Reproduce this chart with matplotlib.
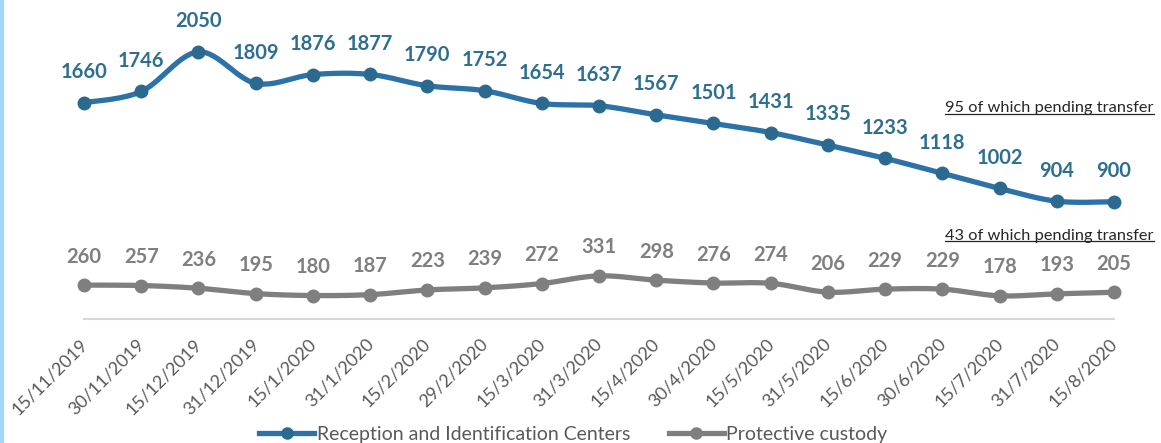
import numpy as np
import matplotlib
matplotlib.use("Agg")
import matplotlib.pyplot as plt
from matplotlib.lines import Line2D
from matplotlib.patches import Rectangle
from matplotlib.transforms import IdentityTransform, ScaledTranslation

dates = ["15/11/2019", "30/11/2019", "15/12/2019", "31/12/2019", "15/1/2020",
         "31/1/2020", "15/2/2020", "29/2/2020", "15/3/2020", "31/3/2020",
         "15/4/2020", "30/4/2020", "15/5/2020", "31/5/2020", "15/6/2020",
         "30/6/2020", "15/7/2020", "31/7/2020", "15/8/2020"]
ric = [1660, 1746, 2050, 1809, 1876, 1877, 1790, 1752, 1654, 1637,
       1567, 1501, 1431, 1335, 1233, 1118, 1002, 904, 900]
custody = [260, 257, 236, 195, 180, 187, 223, 239, 272, 331,
           298, 276, 274, 206, 229, 229, 178, 193, 205]
series_names = ["Reception and Identification Centers", "Protective custody"]
notes = ["95 of which pending transfer", "43 of which pending transfer"]

FONT = ["Lato", "DejaVu Sans"]
plt.rcParams['font.family'] = FONT

W, H = 1161, 443
fig = plt.figure(figsize=(W / 100, H / 100), dpi=100)
ax = fig.add_axes([84 / W, (H - 319) / H, 1030 / W, 319 / H])
ax.set_xlim(0, len(dates) - 1)
ax.set_ylim(0, 319 / 0.1303)


def smooth(xs, ys, n=30):
    xs = np.asarray(xs, float)
    ys = np.asarray(ys, float)
    P = np.column_stack([xs, ys])
    out = []
    for i in range(len(P) - 1):
        p0 = P[i - 1] if i > 0 else P[i]
        p1 = P[i]
        p2 = P[i + 1]
        p3 = P[i + 2] if i + 2 < len(P) else P[i + 1]
        c1 = p1 + (p2 - p0) / 6
        c2 = p2 - (p3 - p1) / 6
        t = np.linspace(0, 1, n)[:, None]
        seg = ((1 - t) ** 3) * p1 + 3 * ((1 - t) ** 2) * t * c1 + 3 * (1 - t) * t ** 2 * c2 + t ** 3 * p2
        out.append(seg if i == 0 else seg[1:])
    S = np.vstack(out)
    return S[:, 0], S[:, 1]


x = np.arange(len(dates))
blue_line = "#2C71A8"
blue_mark = "#2B6A8E"
blue_text = "#2E6E8E"
gray = "#7F7F7F"

for vals, lc, mc, tc, off in [(ric, blue_line, blue_mark, blue_text, 22),
                              (custody, gray, gray, gray, 20.5)]:
    sx, sy = smooth(x, vals)
    ax.plot(sx, sy, color=lc, lw=3.8, solid_capstyle='round', clip_on=False, zorder=2)
    ax.plot(x, vals, 'o', color=mc, ms=9, clip_on=False, zorder=3)
    for xi, v in zip(x, vals):
        ax.annotate(f"{v}", (xi, v), xytext=(0, off), textcoords='offset points',
                    ha='center', va='center', fontsize=14.5, fontweight='bold', color=tc)

for s in ['top', 'right', 'left']:
    ax.spines[s].set_visible(False)
ax.spines['bottom'].set_color('#D9D9D9')
ax.spines['bottom'].set_linewidth(1.5)
ax.set_yticks([])
ax.set_xticks(x)
ax.set_xticklabels(dates, rotation=45, ha='right', rotation_mode='anchor',
                   fontsize=13, color='#595959')
ax.tick_params(axis='x', length=0, pad=12)
shift = ScaledTranslation(-5 / 100, 0, fig.dpi_scale_trans)
for lab in ax.get_xticklabels():
    lab.set_transform(lab.get_transform() + shift)

handles = [Line2D([], [], color=blue_line, lw=3.8, marker='o', ms=8, mfc=blue_mark, mec=blue_mark),
           Line2D([], [], color=gray, lw=3.8, marker='o', ms=8)]
fig.legend(handles, series_names, loc='lower center', bbox_to_anchor=(0.494, -0.04),
           ncol=2, frameon=False, fontsize=14, labelcolor='#595959',
           handlelength=2.8, handletextpad=0.15, columnspacing=2.0)

# left accent bar
fig.add_artist(Rectangle((0, 0), 4 / W, 1, transform=fig.transFigure,
                         color="#9FD6FA", lw=0))

txts = []
for note, ypix in [(notes[0], 108), (notes[1], 236)]:
    t = fig.text(945 / W, 1 - ypix / H, note, ha='left', va='center',
                 fontsize=11.8, color='#262626')
    txts.append(t)

fig.canvas.draw()
r = fig.canvas.get_renderer()
for t in txts:
    bb = t.get_window_extent(r)
    yl = bb.y0 + 1.5
    fig.add_artist(Line2D([bb.x0, bb.x1], [yl, yl], transform=IdentityTransform(),
                          color='#262626', lw=0.9))

fig.savefig("out.png", dpi=100)
